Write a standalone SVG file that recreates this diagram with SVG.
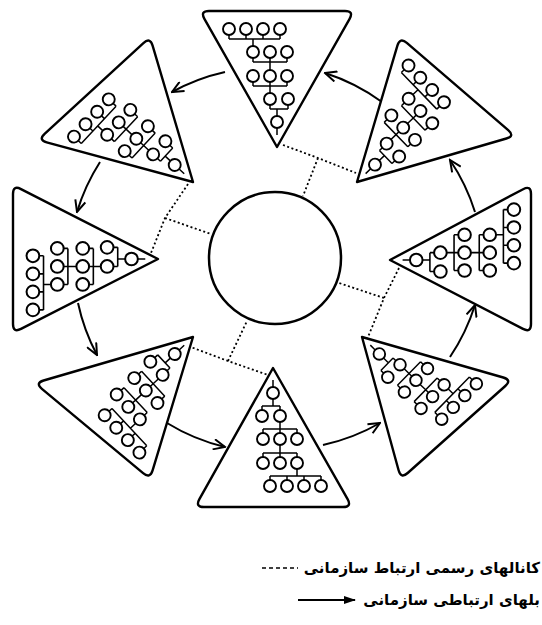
<svg xmlns="http://www.w3.org/2000/svg" xmlns:xlink="http://www.w3.org/1999/xlink" width="542" height="625" viewBox="0 0 542 625">
<style>
.tri{fill:#fff;stroke:#000;stroke-width:2.4;stroke-linejoin:round}
.org circle{fill:#fff;stroke:#000;stroke-width:1.9}
.org path{fill:none;stroke:#000;stroke-width:1.5}
.dot{fill:none;stroke:#000;stroke-width:1.8;stroke-dasharray:2 2.5}
.arc{fill:none;stroke:#000;stroke-width:2}
.lbl{font-family:"DejaVu Sans",sans-serif;font-weight:bold;font-size:15px;fill:#000}
</style>
<defs>
<marker id="ah" viewBox="0 0 14 12" refX="12.5" refY="6" markerWidth="14" markerHeight="12" markerUnits="userSpaceOnUse" orient="auto">
<path d="M1,0.8 L12.5,6 L1,11.2" fill="none" stroke="#000" stroke-width="2"/>
</marker>
<marker id="ahf" viewBox="0 0 12 8" refX="11" refY="4" markerWidth="12" markerHeight="8" markerUnits="userSpaceOnUse" orient="auto">
<path d="M0,0 L12,4 L0,8 Z" fill="#000"/>
</marker>
<g id="tree" class="org">
<path d="M0,12V19 M0,31V38 M-11,38H7 M-11,38V42 M7,38V42 M7,54V61 M-10,61H24 M-10,61V65 M7,61V65 M24,61V65 M7,77V85 M-10,85H24 M-10,85V89 M7,85V89 M24,85V89 M24,101V108 M-3,108H48 M-3,108V112 M14,108V112 M31,108V112 M48,108V112"/>
<circle cx="0" cy="25" r="6"/>
<circle cx="-11" cy="48" r="6"/><circle cx="7" cy="48" r="6"/>
<circle cx="-10" cy="71" r="6"/><circle cx="7" cy="71" r="6"/><circle cx="24" cy="71" r="6"/>
<circle cx="-10" cy="95" r="6"/><circle cx="7" cy="95" r="6"/><circle cx="24" cy="95" r="6"/>
<circle cx="-3" cy="118" r="6"/><circle cx="14" cy="118" r="6"/><circle cx="31" cy="118" r="6"/><circle cx="48" cy="118" r="6"/>
</g>
</defs>
<rect width="542" height="625" fill="#fff"/>

<g id="connectors">
<path class="dot" d="M283,145 L318,158 L356,173 M318,158 L303,196"/>
<path class="dot" d="M188,184 L165,218 L151,253 M165,218 L211,234"/>
<path class="dot" d="M399,268 L384,298 L366,342 M384,298 L339,283"/>
<path class="dot" d="M180,343 L228,361 L271,376 M228,361 L247,321"/>
<path class="arc" d="M382,102 A200,200 0 0 0 325,73" marker-end="url(#ah)"/>
<path class="arc" d="M225,72 A200,200 0 0 0 172,92" marker-end="url(#ah)"/>
<path class="arc" d="M100,162 A200,200 0 0 0 77,212" marker-end="url(#ah)"/>
<path class="arc" d="M78,303 A200,200 0 0 0 97,355" marker-end="url(#ah)"/>
<path class="arc" d="M167,423 A200,200 0 0 0 225,447" marker-end="url(#ah)"/>
<path class="arc" d="M323,445 A200,200 0 0 0 380,423" marker-end="url(#ah)"/>
<path class="arc" d="M450,357 A200,200 0 0 0 475,305" marker-end="url(#ah)"/>
<path class="arc" d="M475,212 A200,200 0 0 0 450,160" marker-end="url(#ah)"/>
</g>

<g id="center">
<circle cx="275" cy="258" r="66" fill="#fff" stroke="#000" stroke-width="2.5"/>
</g>

<g id="node-top">
<path class="tri" d="M277,147 L204.4,18.8 Q200,11 209,11 L345,11 Q354,11 349.6,18.8 Z"/>
<use xlink:href="#tree" href="#tree" transform="translate(277,147) rotate(180)"/>
</g>
<g id="node-top-right">
<path class="tri" d="M357,182 L397.4,45.6 Q400,37 406.8,42.9 L508.2,130.1 Q515,136 506.4,138.5 Z"/>
<use xlink:href="#tree" href="#tree" transform="translate(357,182) rotate(-134)"/>
</g>
<g id="node-right">
<path class="tri" d="M390,260 L523.1,189.2 Q531,185 531,194 L531,324 Q531,333 523,328.9 Z"/>
<use xlink:href="#tree" href="#tree" transform="translate(390,260) rotate(-90) scale(1.05)"/>
</g>
<g id="node-bottom-right">
<path class="tri" d="M362,337 L503.3,377.5 Q512,380 505.3,386 L407.7,473 Q401,479 398.6,470.3 Z"/>
<use xlink:href="#tree" href="#tree" transform="translate(362,337) rotate(-45.6) scale(0.97)"/>
</g>
<g id="node-bottom">
<path class="tri" d="M273,368 L347.6,499.2 Q352,507 343,507 L204,507 Q195,507 199.4,499.2 Z"/>
<use xlink:href="#tree" href="#tree" transform="translate(273,368)"/>
</g>
<g id="node-bottom-left">
<path class="tri" d="M193,337 L152.6,470.4 Q150,479 143.1,473.2 L41.9,388.8 Q35,383 43.6,380.5 Z"/>
<use xlink:href="#tree" href="#tree" transform="translate(193,337) rotate(47)"/>
</g>
<g id="node-left">
<path class="tri" d="M158,259 L21,328.9 Q13,333 13,324 L13,194 Q13,185 21,189.1 Z"/>
<use xlink:href="#tree" href="#tree" transform="translate(158,259) rotate(90) scale(1.06)"/>
</g>
<g id="node-top-left">
<path class="tri" d="M193,182 L46.7,142.4 Q38,140 44.6,133.9 L143.4,43.1 Q150,37 152.6,45.6 Z"/>
<use xlink:href="#tree" href="#tree" transform="translate(193,182) rotate(133)"/>
</g>

<g id="legend">
<line x1="262" y1="568" x2="298" y2="568" stroke="#000" stroke-width="1.5" stroke-dasharray="4 3"/>
<text class="lbl" x="540" y="573" text-anchor="end">کانالهای رسمی ارتباط سازمانی</text>
<line x1="298" y1="600" x2="355" y2="600" stroke="#000" stroke-width="2" marker-end="url(#ahf)"/>
<text class="lbl" x="540" y="605" text-anchor="end">بلهای ارتباطی سازمانی</text>
</g>
</svg>
